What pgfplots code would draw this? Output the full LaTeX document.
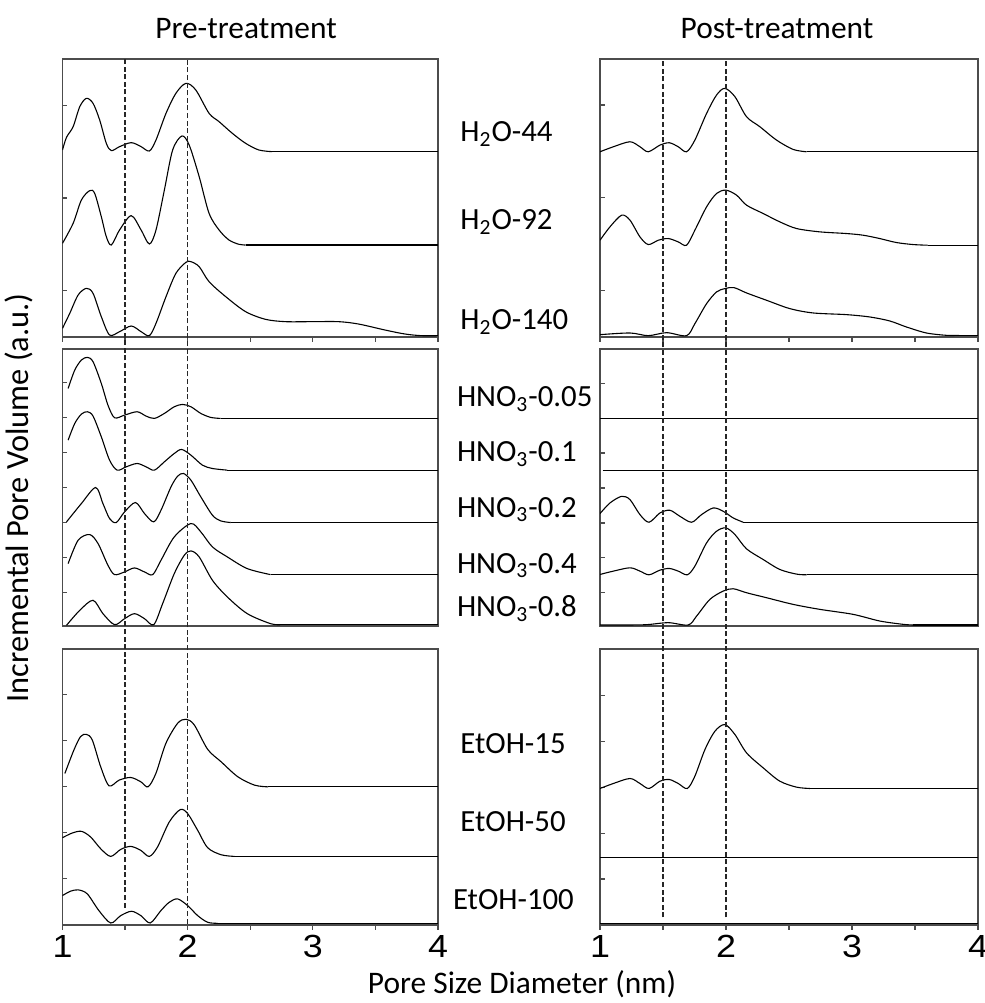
\documentclass[border=0pt]{standalone}
\usepackage{pgfplots}
\pgfplotsset{compat=1.18}
\usepackage{graphicx}
\usepackage{fontspec}
\setmainfont{Carlito}
\newfontfamily\arialf{Liberation Sans}
\newcommand{\tl}[1]{\scalebox{1.12}[1]{\arialf\fontsize{16}{18}\selectfont #1}}

\pgfplotsset{
  panel/.style={
    scale only axis, xmin=1, xmax=4,
    axis line style={black!70, line width=0.8pt},
    every tick/.style={black!70, line width=0.6pt},
    ytick pos=left, yticklabels={},
    ytick align=inside, xtick align=outside,
    major tick length=2.5pt, minor tick length=2.5pt,
    cycle list={{black, mark=none}},
    every axis plot post/.append style={black, line width=0.55pt, mark=none},
  },
  toppanel/.style={panel, xtick={1,1.5,2,2.5,3,3.5,4}, xticklabels={}, xtick pos=bottom},
  midpanel/.style={panel, xtick=\empty},
  botpanel/.style={panel, xtick={1,2,3,4},
    xticklabels={{\tl{1}},{\tl{2}},{\tl{3}},{\tl{4}}},
    xticklabel style={inner sep=2.5pt},
    minor xtick={1.5,2.5,3.5}, xtick pos=bottom},
}
\tikzset{refline/.style={dash pattern=on 2.5pt off 1.3pt, line width=0.8pt, black!85}}

\begin{document}
\begin{tikzpicture}
\useasboundingbox (0,0) rectangle (492.5pt,501.5pt);

% ---------- Left top ----------
\begin{axis}[toppanel, at={(31.25pt,333pt)}, anchor=south west, width=187.75pt, height=139pt,
  ymin=0, ymax=834, ytick={139,417,695}]
\addplot[smooth] coordinates {(1.000,561) (1.032,599) (1.085,631) (1.138,691) (1.191,716) (1.244,701) (1.297,651) (1.350,581) (1.390,559) (1.456,571) (1.549,583) (1.628,571) (1.694,558) (1.747,591) (1.827,671) (1.906,731) (1.986,761) (2.065,741) (2.171,671) (2.251,646) (2.357,611) (2.463,581) (2.569,561) (2.675,556)};
\addplot[sharp plot] coordinates {(2.675,556) (4.0,556)};
\addplot[smooth] coordinates {(1.000,281) (1.085,341) (1.151,411) (1.217,439) (1.257,431) (1.310,361) (1.350,301) (1.390,276) (1.456,321) (1.549,364) (1.628,321) (1.694,279) (1.747,321) (1.814,441) (1.880,561) (1.954,603) (2.012,576) (2.092,481) (2.171,371) (2.251,321) (2.330,291) (2.410,278) (2.463,276)};
\addplot[sharp plot] coordinates {(2.463,276) (4.0,276)};
\addplot[smooth] coordinates {(1.000,26) (1.058,71) (1.125,126) (1.191,146) (1.244,131) (1.310,61) (1.376,6) (1.456,16) (1.549,33) (1.628,16) (1.694,4) (1.747,41) (1.827,121) (1.906,191) (1.986,224) (2.026,226) (2.092,211) (2.171,166) (2.304,121) (2.463,76) (2.622,53) (2.781,46) (2.993,46) (3.205,46) (3.364,39) (3.576,21) (3.735,9) (3.868,4) (4.0,4)};
\coordinate (tltop) at (rel axis cs:0,1);
\end{axis}

% ---------- Left middle ----------
\begin{axis}[midpanel, at={(31.25pt,188.5pt)}, anchor=south west, width=187.75pt, height=138.5pt,
  ymin=0, ymax=830, ytick={100,205,310,415,520,625,730}]
\addplot[smooth] coordinates {(1.045,712) (1.098,767) (1.151,797) (1.199,805) (1.244,792) (1.310,727) (1.363,662) (1.416,624) (1.496,632) (1.596,642) (1.668,629) (1.734,622) (1.814,637) (1.893,657) (1.959,664) (2.026,657) (2.105,637) (2.185,625) (2.264,622)};
\addplot[sharp plot] coordinates {(2.264,622) (4.0,622)};
\addplot[smooth] coordinates {(1.045,557) (1.098,607) (1.151,635) (1.199,642) (1.244,629) (1.310,567) (1.376,497) (1.437,467) (1.509,477) (1.596,487) (1.668,477) (1.734,467) (1.814,492) (1.893,517) (1.952,529) (2.026,512) (2.118,482) (2.198,472) (2.317,467)};
\addplot[sharp plot] coordinates {(2.317,467) (4.0,467)};
\addplot[smooth] coordinates {(1.032,312) (1.151,367) (1.265,415) (1.323,367) (1.376,322) (1.429,310) (1.496,342) (1.583,370) (1.655,337) (1.729,312) (1.787,347) (1.867,417) (1.920,449) (1.967,457) (2.026,437) (2.105,387) (2.198,332) (2.264,315) (2.344,310)};
\addplot[sharp plot] coordinates {(2.344,310) (4.0,310)};
\addplot[smooth] coordinates {(1.045,187) (1.125,257) (1.217,274) (1.284,247) (1.363,182) (1.416,154) (1.496,162) (1.575,174) (1.655,162) (1.721,154) (1.787,197) (1.893,267) (2.026,307) (2.105,282) (2.198,237) (2.317,207) (2.476,172) (2.662,154)};
\addplot[sharp plot] coordinates {(2.662,154) (4.0,154)};
\addplot[smooth] coordinates {(1.032,2) (1.138,47) (1.244,77) (1.323,37) (1.416,4) (1.496,22) (1.575,37) (1.655,22) (1.729,4) (1.800,67) (1.893,157) (1.973,212) (2.026,225) (2.092,207) (2.198,137) (2.317,87) (2.476,37) (2.662,7) (2.741,4)};
\addplot[sharp plot] coordinates {(2.741,4) (4.0,4)};
\end{axis}

% ---------- Left bottom ----------
\begin{axis}[botpanel, at={(31.25pt,39pt)}, anchor=south west, width=187.75pt, height=138pt,
  ymin=0, ymax=825, ytick={138,276,414,552,690}]
\addplot[smooth] coordinates {(1.019,453) (1.091,523) (1.144,563) (1.190,570) (1.238,553) (1.305,473) (1.372,416) (1.452,433) (1.545,441) (1.626,428) (1.684,413) (1.746,453) (1.826,543) (1.920,603) (1.987,615) (2.053,598) (2.160,525) (2.267,488) (2.401,443) (2.535,418) (2.642,413)};
\addplot[sharp plot] coordinates {(2.642,413) (4.0,413)};
\addplot[smooth] coordinates {(1.000,261) (1.078,275) (1.152,280) (1.225,263) (1.305,228) (1.385,205) (1.465,226) (1.545,235) (1.626,223) (1.693,205) (1.759,233) (1.853,308) (1.941,345) (2.000,333) (2.080,283) (2.160,231) (2.267,210) (2.374,205)};
\addplot[sharp plot] coordinates {(2.374,205) (4.0,205)};
\addplot[smooth] coordinates {(1.000,88) (1.064,101) (1.126,105) (1.198,93) (1.291,43) (1.385,6) (1.465,28) (1.551,41) (1.626,28) (1.701,6) (1.786,43) (1.853,68) (1.920,78) (2.000,58) (2.080,28) (2.160,8) (2.241,5)};
\addplot[sharp plot] coordinates {(2.241,5) (4.0,5)};
\coordinate (bl15) at (axis cs:1.5,52);
\coordinate (bl20) at (axis cs:2,4);
\end{axis}

% ---------- Right top ----------
\begin{axis}[toppanel, at={(300pt,333pt)}, anchor=south west, width=189pt, height=139pt,
  ymin=0, ymax=833, ytick={139,417,695}]
\addplot[smooth] coordinates {(1.000,555) (1.106,570) (1.238,585) (1.317,570) (1.383,555) (1.476,575) (1.550,582) (1.621,570) (1.687,555) (1.753,590) (1.846,670) (1.925,725) (1.991,745) (2.071,720) (2.163,660) (2.269,630) (2.401,590) (2.533,562) (2.639,555)};
\addplot[sharp plot] coordinates {(2.639,555) (4.0,555)};
\addplot[smooth] coordinates {(1.000,290) (1.079,330) (1.172,365) (1.238,350) (1.317,300) (1.383,277) (1.463,290) (1.542,295) (1.621,285) (1.687,275) (1.753,320) (1.846,390) (1.925,430) (1.999,440) (2.084,425) (2.163,395) (2.295,370) (2.427,345) (2.560,325) (2.745,315) (2.956,310) (3.088,305) (3.220,295) (3.353,283) (3.485,277) (3.600,275)};
\addplot[sharp plot] coordinates {(3.600,275) (4.0,275)};
\addplot[smooth] coordinates {(1.000,7) (1.238,12) (1.383,4) (1.529,13) (1.687,4) (1.753,40) (1.846,100) (1.925,135) (1.991,145) (2.063,148) (2.163,132) (2.322,110) (2.507,85) (2.692,72) (2.956,67) (3.141,60) (3.300,48) (3.432,30) (3.591,12) (3.749,5) (3.850,5)};
\addplot[sharp plot] coordinates {(3.850,5) (4.0,5)};
\coordinate (trtop) at (rel axis cs:0,1);
\end{axis}

% ---------- Right middle ----------
\begin{axis}[midpanel, at={(300pt,188.5pt)}, anchor=south west, width=189pt, height=138.5pt,
  ymin=0, ymax=833, ytick={100,205,310,415,520,625,730}]
\addplot[sharp plot] coordinates {(1.0,625) (4.0,625)};
\addplot[sharp plot] coordinates {(1.02,468) (4.0,468)};
\addplot[smooth] coordinates {(1.000,338) (1.079,370) (1.172,390) (1.238,380) (1.317,335) (1.389,312) (1.476,340) (1.555,348) (1.634,330) (1.727,312) (1.806,335) (1.899,355) (1.978,345) (2.057,325) (2.137,312)};
\addplot[sharp plot] coordinates {(2.137,312) (4.0,312)};
\addplot[smooth] coordinates {(1.000,155) (1.106,165) (1.238,175) (1.317,165) (1.389,154) (1.476,168) (1.550,173) (1.621,165) (1.693,154) (1.753,180) (1.846,250) (1.925,285) (1.999,295) (2.071,275) (2.163,232) (2.295,200) (2.427,170) (2.560,156) (2.639,154)};
\addplot[sharp plot] coordinates {(2.639,154) (4.0,154)};
\addplot[smooth] coordinates {(1.000,3) (1.185,3) (1.370,4) (1.542,10) (1.700,3) (1.767,30) (1.872,80) (1.978,105) (2.057,112) (2.163,100) (2.322,85) (2.533,65) (2.745,50) (3.009,35) (3.220,15) (3.405,5) (3.485,3)};
\addplot[sharp plot] coordinates {(3.485,3) (4.0,3)};
\end{axis}

% ---------- Right bottom ----------
\begin{axis}[botpanel, at={(300pt,39pt)}, anchor=south west, width=189pt, height=138pt,
  ymin=0, ymax=829, ytick={138,276,414,552,690}]
\addplot[smooth] coordinates {(1.000,410) (1.106,425) (1.238,440) (1.317,425) (1.389,410) (1.476,432) (1.550,437) (1.621,425) (1.693,410) (1.753,447) (1.833,527) (1.912,582) (1.991,602) (2.071,572) (2.163,517) (2.295,472) (2.427,432) (2.560,414) (2.665,410)};
\addplot[sharp plot] coordinates {(2.665,410) (4.0,410)};
\addplot[sharp plot] coordinates {(1.0,202) (4.0,202)};
\addplot[sharp plot] coordinates {(1.0,4) (4.0,4)};
\coordinate (br15) at (axis cs:1.5,23);
\coordinate (br20) at (axis cs:2,23);
\end{axis}

% reference lines
\draw[refline] (bl15) -- (bl15 |- tltop);
\draw[refline] (bl20) -- (bl20 |- tltop);
\draw[refline] (br15) -- (br15 |- trtop);
\draw[refline] (br20) -- (br20 |- trtop);

% titles and labels
\node[anchor=base, inner sep=0, font=\fontsize{15.7}{18}\selectfont] at (123pt,482pt) {Pre-treatment};
\node[anchor=base, inner sep=0, font=\fontsize{15.7}{18}\selectfont] at (388.5pt,482pt) {Post-treatment};
\node[anchor=base, inner sep=0, font=\fontsize{15.7}{18}\selectfont] at (261pt,5pt) {Pore Size Diameter (nm)};
\node[anchor=center, inner sep=0, rotate=90, font=\fontsize{16.2}{19}\selectfont] at (9.5pt,252.5pt) {Incremental Pore Volume (a.u.)};

\begin{scope}[every node/.style={anchor=base west, inner sep=0, font=\fontsize{15.4}{18}\selectfont}]
\node at (230pt,430.65pt) {H\textsubscript{2}O-44};
\node at (230pt,386.5pt) {H\textsubscript{2}O-92};
\node at (230pt,336.5pt) {H\textsubscript{2}O-140};
\node at (228.3pt,298.15pt) {HNO\textsubscript{3}-0.05};
\node at (228.3pt,270.65pt) {HNO\textsubscript{3}-0.1};
\node at (228.3pt,242.85pt) {HNO\textsubscript{3}-0.2};
\node at (228.3pt,214.85pt) {HNO\textsubscript{3}-0.4};
\node at (228.3pt,193.15pt) {HNO\textsubscript{3}-0.8};
\node at (230pt,124.5pt) {EtOH-15};
\node at (230pt,85.65pt) {EtOH-50};
\node at (226.3pt,46.85pt) {EtOH-100};
\end{scope}
\end{tikzpicture}
\end{document}
